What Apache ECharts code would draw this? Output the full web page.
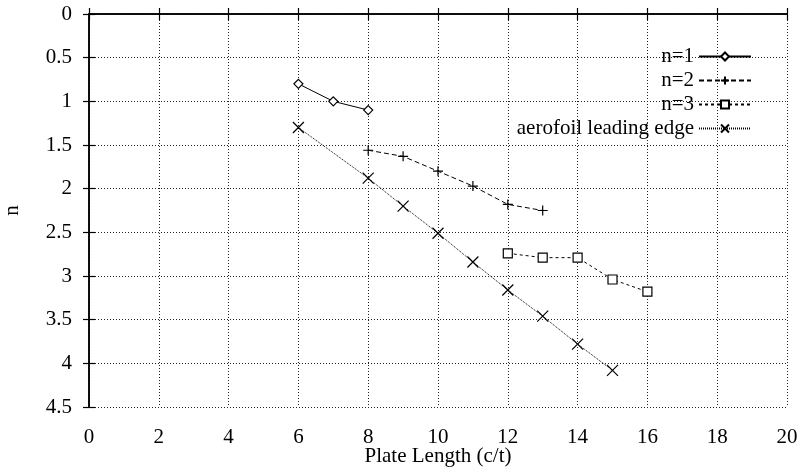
<!DOCTYPE html>
<html>
<head>
<meta charset="utf-8">
<script src="https://cdn.jsdelivr.net/npm/echarts@6/dist/echarts.min.js"></script>
<style>
  html, body { margin: 0; padding: 0; background: #fff; }
  #chart { width: 808px; height: 468px; }
</style>
</head>
<body>
<div id="chart"></div>
<script>
// values (x = plate length c/t, y = n)
var n1X = [6, 7, 8];
var n1Y = [0.8, 1.0, 1.1];
var n2X = [8, 9, 10, 11, 12, 13];
var n2Y = [1.56, 1.63, 1.8, 1.97, 2.18, 2.25];
var n3X = [12, 13, 14, 15, 16];
var n3Y = [2.74, 2.79, 2.79, 3.04, 3.18];
var leX = [6, 8, 9, 10, 11, 12, 13, 14, 15];
var leY = [1.3, 1.88, 2.2, 2.51, 2.84, 3.16, 3.46, 3.78, 4.08];
var seriesNames = ['n=1', 'n=2', 'n=3', 'aerofoil leading edge'];

var font = 'Liberation Serif, Times New Roman, serif';
var plusPath = 'path://M5,0 L5,10 M0,5 L10,5';
var crossPath = 'path://M0,0 L10,10 M10,0 L0,10';

function pairs(xs, ys) {
    var out = [];
    for (var i = 0; i < xs.length; i++) {
        out.push([xs[i], ys[i]]);
    }
    return out;
}

function mkSeries(name, xs, ys, symbol, size, dash) {
    return {
        name: name,
        type: 'line',
        data: pairs(xs, ys),
        symbol: symbol,
        symbolSize: size,
        showAllSymbol: true,
        lineStyle: { color: '#000', width: 1, type: dash },
        itemStyle: { color: '#fff', borderColor: '#000', borderWidth: 1.2 },
        emphasis: { disabled: true },
        animation: false
    };
}

var chart = echarts.init(document.getElementById('chart'));

var tickStyle = { show: true, inside: true, length: 6, lineStyle: { color: '#000', width: 1.2 } };
var frameLine = { show: true, lineStyle: { color: '#000', width: 1.5 } };
var gridDots = { show: true, lineStyle: { color: '#222', width: 1, type: [1, 2] } };

var option = {
    backgroundColor: '#fff',
    animation: false,
    textStyle: { fontFamily: font, color: '#000' },
    grid: { left: 89, top: 14, right: 21, bottom: 61, outerBoundsMode: 'none', containLabel: false },
    legend: {
        data: seriesNames,
        orient: 'vertical',
        right: 51,
        top: 41,
        align: 'right',
        itemWidth: 52,
        itemHeight: 10,
        itemGap: 3,
        textStyle: { fontFamily: font, fontSize: 21, lineHeight: 20, height: 20, color: '#000' }
    },
    xAxis: [
        {
            type: 'value',
            min: 0, max: 20, interval: 2,
            name: 'Plate Length (c/t)',
            nameLocation: 'middle',
            nameGap: 39,
            nameMoveOverlap: false,
            nameTextStyle: { fontFamily: font, fontSize: 21, color: '#000' },
            axisLine: frameLine,
            axisTick: tickStyle,
            axisLabel: { fontFamily: font, fontSize: 21, color: '#000', margin: 20 },
            splitLine: gridDots
        },
        {
            type: 'value',
            position: 'top',
            min: 0, max: 20, interval: 2,
            axisLine: frameLine,
            axisTick: tickStyle,
            axisLabel: { show: false },
            splitLine: { show: false }
        }
    ],
    yAxis: [
        {
            type: 'value',
            inverse: true,
            min: 0, max: 4.5, interval: 0.5,
            name: 'n',
            nameLocation: 'middle',
            nameGap: 66,
            nameRotate: 90,
            nameMoveOverlap: false,
            nameTextStyle: { fontFamily: font, fontSize: 21, color: '#000' },
            axisLine: frameLine,
            axisTick: tickStyle,
            axisLabel: { fontFamily: font, fontSize: 21, color: '#000', margin: 17 },
            splitLine: gridDots
        },
        {
            type: 'value',
            position: 'right',
            inverse: true,
            min: 0, max: 4.5, interval: 0.5,
            axisLine: frameLine,
            axisTick: tickStyle,
            axisLabel: { show: false },
            splitLine: { show: false }
        }
    ],
    series: [
        mkSeries(seriesNames[0], n1X, n1Y, 'diamond', 9, 'solid'),
        mkSeries(seriesNames[1], n2X, n2Y, plusPath, 10, [5, 3]),
        mkSeries(seriesNames[2], n3X, n3Y, 'rect', 9, [3, 3]),
        mkSeries(seriesNames[3], leX, leY, crossPath, 11, [1, 1])
    ]
};

chart.setOption(option);
</script>
</body>
</html>
